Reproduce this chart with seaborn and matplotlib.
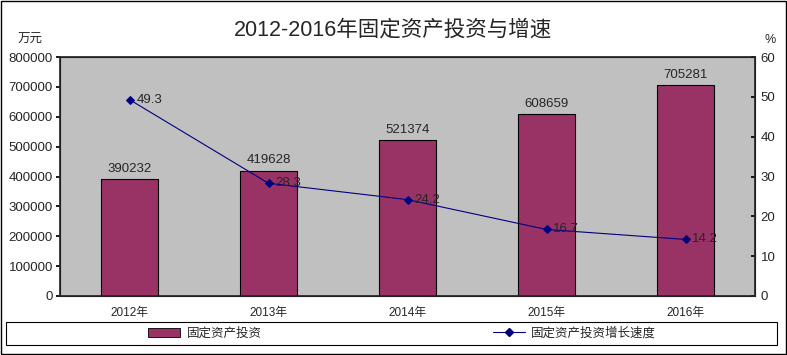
import matplotlib
matplotlib.use('Agg')
import matplotlib.pyplot as plt
import seaborn as sns
import numpy as np
import pandas as pd
from matplotlib.patches import Rectangle
from matplotlib.ticker import FixedLocator

years = ['2012年', '2013年', '2014年', '2015年', '2016年']
invest = [390232, 419628, 521374, 608659, 705281]
growth = [49.3, 28.3, 24.2, 16.7, 14.2]

sns.set_theme(style='white')
plt.rcParams['font.family'] = ['Liberation Sans', 'Noto Sans CJK SC', 'DejaVu Sans']

df = pd.DataFrame({'year': years, 'invest': invest, 'growth': growth})

fig = plt.figure(figsize=(7.87, 3.55), dpi=100)
ax = fig.add_axes([60/787, 1-296/355, 695/787, 239/355])
ax.set_facecolor('#C0C0C0')

sns.barplot(data=df, x='year', y='invest', color='#993366', saturation=1,
            width=0.41, edgecolor='black', linewidth=0.8, ax=ax)
ax.set_xlim(-0.5, 4.5)
ax.set_ylim(0, 800000)
ax.set_yticks(np.arange(0, 800001, 100000))
ax.set_xlabel('')
ax.set_ylabel('')
ax.tick_params(axis='x', length=0, labelsize=8.5, pad=8)
ax.xaxis.set_minor_locator(FixedLocator([0.5, 1.5, 2.5, 3.5]))
ax.tick_params(axis='x', which='minor', length=4, direction='in', color='black')
ax.tick_params(axis='y', length=3, labelsize=9.5, pad=2, color='black', left=True)
for s in ax.spines.values():
    s.set_color('black')
    s.set_linewidth(0.8)
for i, v in enumerate(invest):
    ax.text(i, v + 14000, str(v), ha='center', va='bottom', fontsize=9.5)

ax2 = ax.twinx()
sns.lineplot(x=np.arange(len(growth)), y=growth, ax=ax2, color='#000080',
             marker='D', markersize=4, linewidth=0.8, markeredgecolor='#000080')
ax2.set_ylim(0, 60)
ax2.set_yticks(np.arange(0, 61, 10))
ax2.tick_params(axis='y', length=3, direction='in', labelsize=9.5, pad=4, color='black', right=True)
ax2.set_ylabel('')
for i, v in enumerate(growth):
    ax2.text(i + 0.05, v, str(v), ha='left', va='center', fontsize=9.5)

fig.text(393/787, 1-30/355, '2012-2016年固定资产投资与增速', ha='center', va='center', fontsize=15.5)
fig.text(30/787, 1-40/355, '万元', ha='center', va='center', fontsize=9)
fig.text(770/787, 1-40/355, '%', ha='center', va='center', fontsize=9)

# legend box spans the full width, entries placed like the original
fig.patches.append(Rectangle((6/787, 1-345/355), 771/787, 23/355, transform=fig.transFigure,
                             fill=False, edgecolor='black', linewidth=0.8))
bar_h = plt.Rectangle((0, 0), 1, 1, facecolor='#993366', edgecolor='black', linewidth=0.6)
line_h = plt.Line2D([], [], color='#000080', marker='D', markersize=4, linewidth=0.8)
fig.legend([bar_h, line_h], ['固定资产投资', '固定资产投资增长速度'],
           loc='center', bbox_to_anchor=(402/787, 1-333.5/355),
           ncol=2, fontsize=9, frameon=False, handlelength=2.6,
           handletextpad=0.5, columnspacing=18.5)

fig.patches.append(Rectangle((1/787, 1/355), 785/787, 353/355, transform=fig.transFigure,
                             fill=False, edgecolor='black', linewidth=1))

fig.savefig('out.png', dpi=100)
